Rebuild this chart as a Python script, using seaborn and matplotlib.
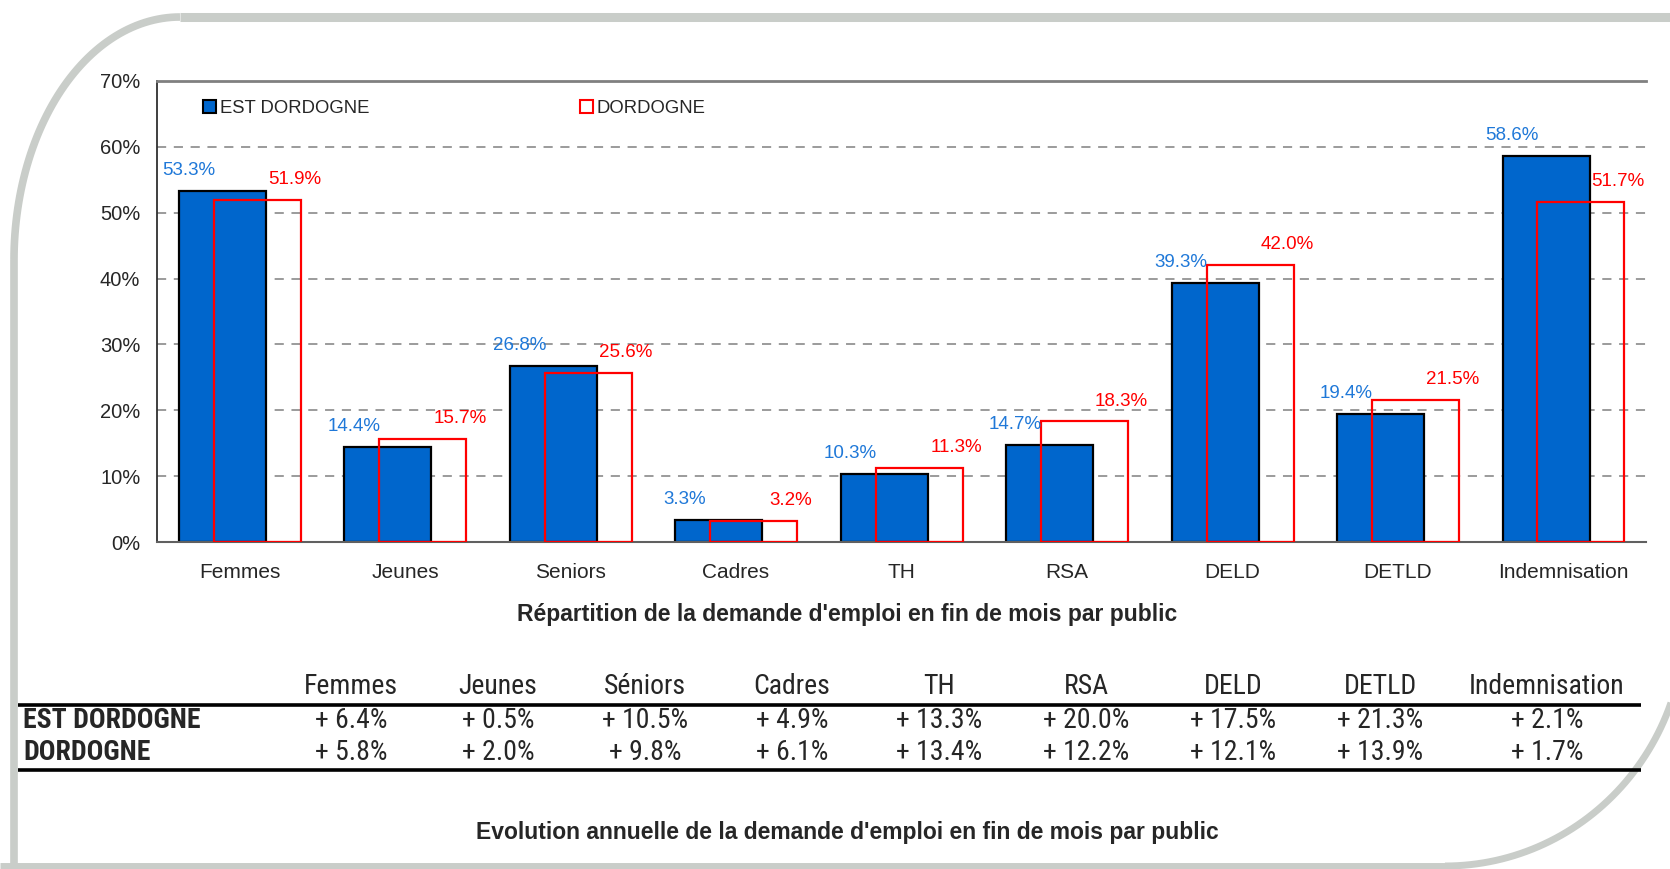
"""Répartition et évolution de la demande d'emploi par public (Est Dordogne / Dordogne)."""

import matplotlib.pyplot as plt
import matplotlib.ticker as mticker
import numpy as np
import pandas as pd
import seaborn as sns
from matplotlib import font_manager
from matplotlib.patches import Patch

categories = ["Femmes", "Jeunes", "Seniors", "Cadres", "TH", "RSA", "DELD", "DETLD", "Indemnisation"]
series_names = ["EST DORDOGNE", "DORDOGNE"]
est_dordogne = [53.3, 14.4, 26.8, 3.3, 10.3, 14.7, 39.3, 19.4, 58.6]
dordogne = [51.9, 15.7, 25.6, 3.2, 11.3, 18.3, 42.0, 21.5, 51.7]
y_ticks = [0, 10, 20, 30, 40, 50, 60, 70]

table_headers = ["Femmes", "Jeunes", "Séniors", "Cadres", "TH", "RSA", "DELD", "DETLD", "Indemnisation"]
evol_est_dordogne = [6.4, 0.5, 10.5, 4.9, 13.3, 20.0, 17.5, 21.3, 2.1]
evol_dordogne = [5.8, 2.0, 9.8, 6.1, 13.4, 12.2, 12.1, 13.9, 1.7]

title_chart = "Répartition de la demande d'emploi en fin de mois par public"
title_table = "Evolution annuelle de la demande d'emploi en fin de mois par public"

BLUE = "#0066CC"
BLUE_TXT = "#1F78D8"
RED = "#FF0000"
FRAME = "#C9CDC9"
W, H = 1670, 869

sns.set_style("white")
plt.rcParams["font.family"] = ["Liberation Sans", "DejaVu Sans"]

# the table is in a narrow face (Calibri-like); use a condensed one if available
installed = {f.name for f in font_manager.fontManager.ttflist}
if "Roboto Condensed" in installed:
    table_font, table_size = ["Roboto Condensed", "DejaVu Sans"], 20
elif "Liberation Sans Narrow" in installed:
    table_font, table_size = ["Liberation Sans Narrow", "DejaVu Sans"], 19
else:
    table_font, table_size = ["Liberation Sans", "DejaVu Sans"], 17

df = pd.DataFrame({
    "categorie": categories * 2,
    "serie": [series_names[0]] * len(categories) + [series_names[1]] * len(categories),
    "valeur": est_dordogne + dordogne,
})

fig = plt.figure(figsize=(W / 100, H / 100), dpi=100)

# background layer in pixel coordinates: frame, titles, table
bg = fig.add_axes([0, 0, 1, 1], zorder=0)
bg.set_xlim(0, W)
bg.set_ylim(H, 0)
bg.axis("off")

# rounded decorative frame
t = np.linspace(np.pi / 2, np.pi, 60)
cx, cy, rx, ry = 180, 260, 166, 243
bg.plot(cx + rx * np.cos(t), cy - ry * np.sin(t), color=FRAME, lw=5.5, solid_capstyle="butt")
bg.plot([cx, W], [cy - ry, cy - ry], color=FRAME, lw=6.5, solid_capstyle="butt")
bg.plot([cx - rx, cx - rx], [cy, H], color=FRAME, lw=5.5, solid_capstyle="butt")
t = np.linspace(-np.pi / 2, 0, 60)
cx, cy, rx, ry = 1445, 620, 240, 246
bg.plot(cx + rx * np.cos(t), cy - ry * np.sin(t), color=FRAME, lw=5.0, solid_capstyle="butt")
bg.plot([0, cx], [cy + ry, cy + ry], color=FRAME, lw=5.0, solid_capstyle="butt")

# bar chart
ax = fig.add_axes([157 / W, 1 - 542 / H, (1646 - 157) / W, (542 - 81) / H], zorder=1)
ax.patch.set_alpha(0)

n0 = len(ax.patches)
sns.barplot(data=df[df["serie"] == series_names[0]], x="categorie", y="valeur", order=categories,
            color=BLUE, saturation=1, edgecolor="black", linewidth=1.6, width=0.526,
            errorbar=None, ax=ax)
for p in ax.patches[n0:]:
    p.set_x(p.get_x() - 0.104)
    p.set_zorder(2)
n1 = len(ax.patches)
sns.barplot(data=df[df["serie"] == series_names[1]], x="categorie", y="valeur", order=categories,
            color=RED, saturation=1, fill=False, linewidth=1.6, width=0.526,
            errorbar=None, ax=ax)
for p in ax.patches[n1:]:
    p.set_x(p.get_x() + 0.107)
    p.set_edgecolor(RED)
    p.set_facecolor("none")
    p.set_zorder(3)

for i, v in enumerate(est_dordogne):
    ax.text(i - 0.31, v + 3.1, f"{v:.1f}%", ha="center", va="center", color=BLUE_TXT, fontsize=13.5, zorder=4)
for i, v in enumerate(dordogne):
    ax.text(i + 0.33, v + 3.1, f"{v:.1f}%", ha="center", va="center", color=RED, fontsize=13.5, zorder=4)

ax.set_xlim(-0.5, len(categories) - 0.5)
ax.set_ylim(0, 70)
ax.set_yticks(y_ticks)
ax.yaxis.set_major_formatter(mticker.FuncFormatter(lambda x, _: f"{x:.0f}%"))
ax.set_xlabel("")
ax.set_ylabel("")
ax.set_axisbelow(True)
ax.grid(axis="y", color="#808080", linestyle=(0, (6, 5)), linewidth=1.1)
ax.grid(axis="x", visible=False)
ax.xaxis.set_minor_locator(mticker.FixedLocator(np.arange(-0.5, len(categories) - 1, 1.0)))
ax.tick_params(axis="x", which="major", length=0, pad=15, labelsize=15)
ax.tick_params(axis="x", which="minor", length=4.5, width=1.1, color="#404040", direction="out")
ax.tick_params(axis="y", length=4, width=1.1, color="#404040", direction="out", pad=8, labelsize=14.5)
ax.spines["right"].set_visible(False)
ax.spines["top"].set_color("#808080")
ax.spines["top"].set_linewidth(2)
ax.spines["left"].set_color("#303030")
ax.spines["left"].set_linewidth(1.3)
ax.spines["bottom"].set_color("#606060")
ax.spines["bottom"].set_linewidth(1.5)

handles = [
    Patch(facecolor=BLUE, edgecolor="black", linewidth=1.5),
    Patch(facecolor="white", edgecolor=RED, linewidth=1.5),
]
ax.legend(handles, series_names, ncol=2, loc="center left", bbox_to_anchor=(0.031, 0.941),
          frameon=False, fontsize=13.3, handlelength=0.7, handleheight=0.7, handletextpad=0.2,
          columnspacing=11.4, borderpad=0, borderaxespad=0)

bg.text(847, 614, title_chart, ha="center", va="center", fontsize=16.5, fontweight="bold")

# annual evolution table
col_x = [351 + 147 * i for i in range(len(table_headers) - 1)] + [1547]
for x, name, a, b in zip(col_x, table_headers, evol_est_dordogne, evol_dordogne):
    bg.text(x, 687, name, ha="center", va="center", fontsize=table_size, family=table_font)
    bg.text(x, 721, f"+ {a:.1f}%", ha="center", va="center", fontsize=table_size, family=table_font)
    bg.text(x, 752, f"+ {b:.1f}%", ha="center", va="center", fontsize=table_size, family=table_font)
for y, name in zip([721, 752], series_names):
    bg.text(23, y, name, ha="left", va="center", fontsize=table_size, fontweight="bold", family=table_font)
for y in (705, 770):
    bg.plot([18, 1641], [y, y], color="black", lw=2.6, solid_capstyle="butt")

bg.text(847, 832, title_table, ha="center", va="center", fontsize=16.5, fontweight="bold")

fig.savefig("out.png", dpi=100)
